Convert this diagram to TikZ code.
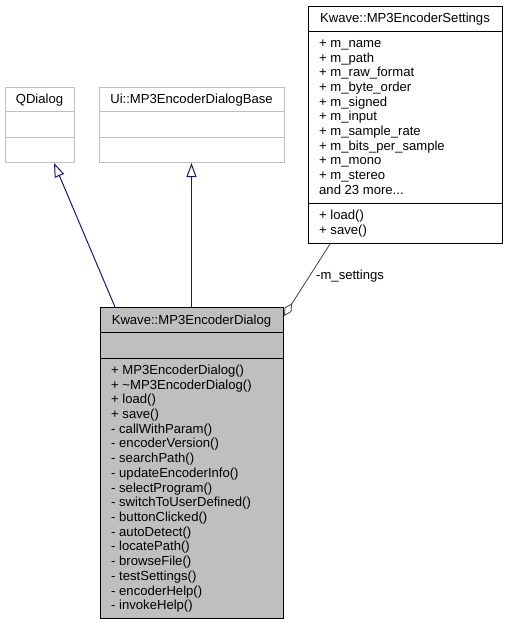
\documentclass[tikz,border=0pt]{standalone}
\usepackage{fontspec}
\setmainfont{Liberation Sans}
\usetikzlibrary{arrows.meta,calc}
\definecolor{grayb}{RGB}{191,191,191}
\definecolor{dlgfill}{RGB}{191,191,191}
\definecolor{inh}{RGB}{25,25,112}
\definecolor{usage}{RGB}{64,64,64}
\begin{document}
\begin{tikzpicture}[x=1pt,y=-1pt,
  lbl/.style={anchor=base west,inner sep=0pt,font=\fontsize{13.1}{15}\selectfont},
  hdr/.style={anchor=base,inner sep=0pt,font=\fontsize{13.1}{15}\selectfont},
  box/.style={anchor=north west,inner sep=0pt,line width=1pt},
  graybox/.style={box,draw=grayb},
  blackbox/.style={box,draw=black},
  inherit/.style={draw=inh,line width=1pt,-{Triangle[open,length=14pt,width=10pt]}},
  uses/.style={draw=usage,line width=0.8pt,-{Diamond[open,length=15pt,width=8pt]}}]
\useasboundingbox[fill=white] (0,0) rectangle (507,624);

% QDialog
\node[graybox,minimum width=69pt,minimum height=75pt] (qd) at (5,87) {};
\draw[grayb,line width=1pt] (5,111) -- (74,111) (5,137) -- (74,137);
\node[hdr] (qdt) at (39.5,103.2) {QDialog};

% Ui::MP3EncoderDialogBase
\node[graybox,minimum width=185pt,minimum height=75pt] (ui) at (99,87) {};
\draw[grayb,line width=1pt] (99,111) -- (284,111) (99,137) -- (284,137);
\node[hdr] (uit) at (191.5,103.2) {Ui::MP3EncoderDialogBase};

% Kwave::MP3EncoderSettings
\node[blackbox,fill=white,minimum width=194pt,minimum height=237pt] (st) at (308,6) {};
\draw[line width=1pt] (308,31) -- (502,31) (308,203) -- (502,203);
\node[hdr] (stt) at (405,22.7) {Kwave::MP3EncoderSettings};
\foreach \t [count=\i from 0] in {{+ m\_name},{+ m\_path},{+ m\_raw\_format},{+ m\_byte\_order},{+ m\_signed},{+ m\_input},{+ m\_sample\_rate},{+ m\_bits\_per\_sample},{+ m\_mono},{+ m\_stereo},{and 23 more.{}.{}.}}
  \node[lbl] (sa\i) at (319,47.3+14.7*\i) {\t};
\node[lbl] (sm0) at (319,219.8) {+ load()};
\node[lbl] (sm1) at (319,234.6) {+ save()};

% Kwave::MP3EncoderDialog
\node[blackbox,fill=dlgfill,minimum width=183pt,minimum height=311pt] (dlg) at (100,307) {};
\draw[line width=1pt] (100,332) -- (283,332) (100,358) -- (283,358);
\node[hdr] (dlgt) at (191.5,324.3) {Kwave::MP3EncoderDialog};
\foreach \t [count=\i from 0] in {{+ MP3EncoderDialog()},{+ \textasciitilde MP3EncoderDialog()},{+ load()},{+ save()},{- callWithParam()},{- encoderVersion()},{- searchPath()},{- updateEncoderInfo()},{- selectProgram()},{- switchToUserDefined()},{- buttonClicked()},{- autoDetect()},{- locatePath()},{- browseFile()},{- testSettings()},{- encoderHelp()},{- invokeHelp()}}
  \node[lbl] (dm\i) at (111,374.3+14.72*\i) {\t};

% connectors
\draw[inherit] ($(dlg.north west)+(15,0)$) -- ($(qd.south west)+(49,0)$);
\draw[inherit] ($(dlg.north west)+(91.5,0)$) -- ($(ui.south west)+(92.5,0)$);
\draw[uses] ($(st.south west)+(22,0)$) -- ($(dlg.north east)+(0,9)$);
\node[lbl] (rl) at (316,279) {-m\_settings};
\end{tikzpicture}
\end{document}
